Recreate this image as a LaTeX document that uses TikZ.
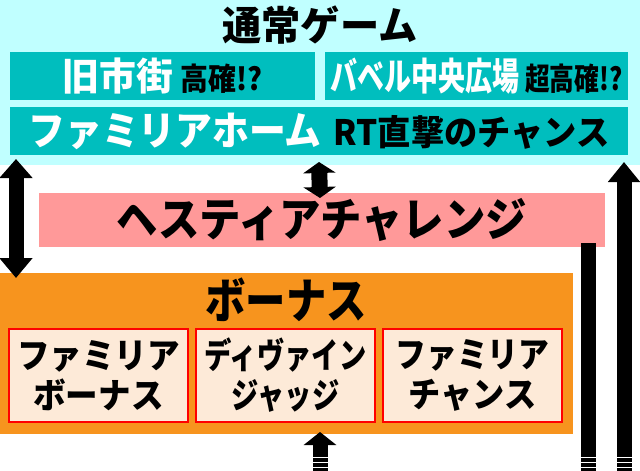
\documentclass[tikz,border=0pt]{standalone}
\usepackage{fontspec}
\newfontfamily\jp{Noto Sans CJK JP}
\usetikzlibrary{arrows.meta}
\definecolor{bgcyan}{RGB}{192,255,255}
\definecolor{tealbox}{RGB}{0,190,190}
\definecolor{pinkbox}{RGB}{255,153,153}
\definecolor{orangebox}{RGB}{247,148,30}
\definecolor{peach}{RGB}{253,234,216}
\definecolor{redline}{RGB}{255,0,0}
% condensed text: size, horizontal scale, text
\newcommand{\cnd}[3]{\scalebox{#2}[1]{\fontsize{#1}{#1}\selectfont #3}}
\begin{document}
\begin{tikzpicture}[x=1pt,y=-1pt,
  panel/.style={inner sep=0pt,outer sep=0pt,anchor=north west,font=\jp\bfseries,text=black},
  sub/.style={panel,fill=tealbox,minimum height=48pt},
  item/.style={panel,fill=peach,draw=redline,line width=1.5pt,minimum width=179pt,minimum height=93pt,align=center,font=\jp\bfseries\fontsize{35}{40}\selectfont},
  blk/.style={line width=15pt,black},
  stripe/.style={white,line width=1.3pt}]
\useasboundingbox (0,0) rectangle (640,471);
% normal game area
\node[panel,fill=bgcyan,minimum width=640pt,minimum height=165pt] (normal) at (0,0) {};
\node[panel,anchor=center] (title) at (320,25) {\cnd{40}{0.98}{通常ゲーム}};
\node[sub,minimum width=305pt] (old) at (10,52)
  {\textcolor{white}{\cnd{38}{0.97}{旧市街}}\hspace{8pt}\cnd{31}{0.9}{高確!?}};
\node[sub,minimum width=303pt] (babel) at (325,52)
  {\textcolor{white}{\cnd{38}{0.71}{バベル中央広場}}\hspace{6pt}\cnd{31}{0.8}{超高確!?}};
\node[sub,minimum width=618pt] (home) at (10,107)
  {\textcolor{white}{\cnd{40}{0.92}{ファミリアホーム}}\hspace{12pt}\cnd{35}{0.95}{RT直撃のチャンス}};
% hestia challenge
\node[panel,fill=pinkbox,minimum width=566pt,minimum height=54pt] (hestia) at (39,193) {\cnd{46}{0.9}{ヘスティアチャレンジ}};
% bonus
\node[panel,fill=orangebox,minimum width=573pt,minimum height=161pt] (bonus) at (0,273) {};
\node[panel,anchor=center] (btitle) at (286,300) {\cnd{48}{0.84}{ボーナス}};
\node[item] (fb) at (9,329) {\scalebox{0.93}[1]{ファミリア}\\\scalebox{0.93}[1]{ボーナス}};
\node[item] (dj) at (196,329) {\scalebox{0.78}[1]{ディヴァイン}\\\scalebox{0.78}[1]{ジャッジ}};
\node[item] (fc) at (383,329) {\scalebox{0.88}[1]{ファミリア}\\\scalebox{0.92}[1]{チャンス}};
% coordinates
\coordinate (b0) at (320,471);
\coordinate (r1) at (588,471);
\coordinate (r2) at (624,471);
% arrows
\draw[blk,{Triangle[width=32pt,length=19pt]}-{Triangle[width=32pt,length=20pt]}]
  ([xshift=16pt,yshift=6pt]normal.south west) -- ([xshift=16pt,yshift=-5pt]bonus.north west);
\draw[line width=16pt,{Triangle[width=32pt,length=11pt]}-{Triangle[width=32pt,length=11pt]}]
  ([xshift=-1pt,yshift=3pt]normal.south) -- ([yshift=-5pt]hestia.north -| title.south);
\draw[blk,-{Triangle[width=32pt,length=13pt]}] (b0) -- ([yshift=2pt]b0 |- bonus.south);
\draw[blk] (r1) -- ([yshift=4pt]r1 |- hestia.south);
\draw[blk,-{Triangle[width=31pt,length=20pt]}] (r2) -- ([yshift=3pt]r2 |- normal.south);
\foreach \xx in {320,588,624}{
  \foreach \yy in {457.5,462.5,467.5}{
    \draw[stripe] (\xx-8,\yy) -- (\xx+8,\yy);
  }
}
\end{tikzpicture}
\end{document}
